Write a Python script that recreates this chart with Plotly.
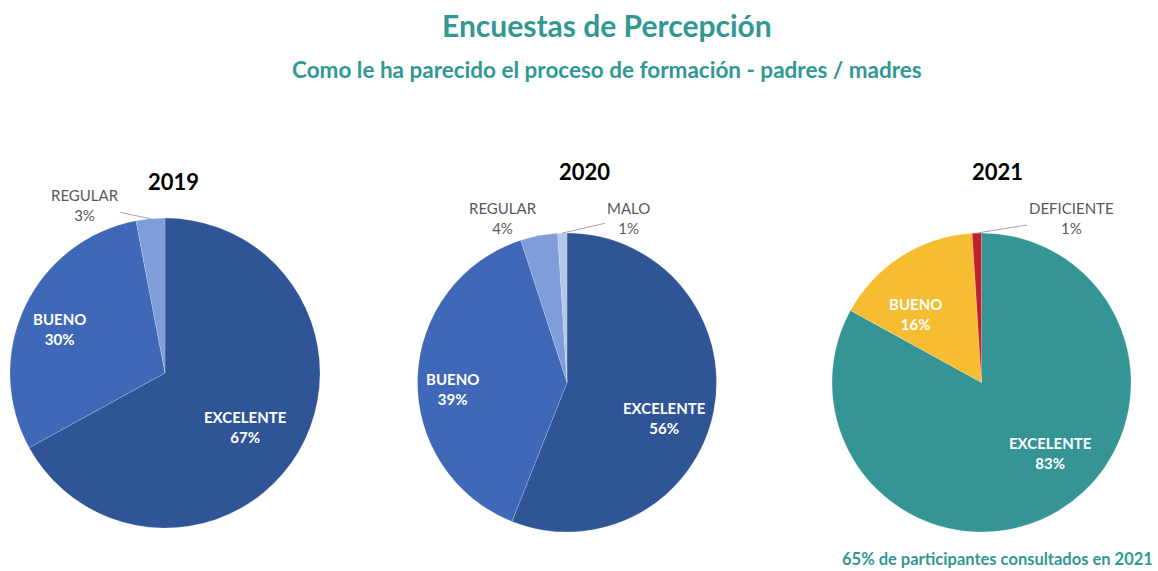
import math
import plotly.graph_objects as go

W, H = 1158, 571

years = ["2019", "2020", "2021"]
labels_2019 = ["EXCELENTE", "BUENO", "REGULAR"]
values_2019 = [67, 30, 3]
labels_2020 = ["EXCELENTE", "BUENO", "REGULAR", "MALO"]
values_2020 = [56, 39, 4, 1]
labels_2021 = ["EXCELENTE", "BUENO", "DEFICIENTE"]
values_2021 = [83, 16, 1]

colors_2019 = ["#2F5597", "#3F69B8", "#7F9DD8"]
colors_2020 = ["#2F5597", "#3F69B8", "#7F9DD8", "#B4C7E7"]
colors_2021 = ["#349594", "#F6BD33", "#C0202D"]

# layout: pixel boxes (x0, x1, y0, y1) for each pie
boxes = [(10, 320, 218, 528), (417, 717, 233, 532), (832, 1131, 233, 532)]
# inside label centres (pixels)
inside_pos = {
    "2019": {"EXCELENTE": (245, 427), "BUENO": (60, 329)},
    "2020": {"EXCELENTE": (664, 418), "BUENO": (452, 389)},
    "2021": {"EXCELENTE": (1050, 453), "BUENO": (915, 314)},
}
# outside label centres (pixels) for small slices, with leader line
outside_pos = {
    "2019": {"REGULAR": (85, 205)},
    "2020": {"REGULAR": (503, 218), "MALO": (628, 218)},
    "2021": {"DEFICIENTE": (1071, 218)},
}
year_title_pos = [(173, 181), (584, 172), (997, 172)]

data = [(labels_2019, values_2019, colors_2019),
        (labels_2020, values_2020, colors_2020),
        (labels_2021, values_2021, colors_2021)]

FONT = "Lato"
fig = go.Figure()
annotations = []

def px(x, y):
    return x / W, 1 - y / H

for yr, (labs, vals, cols), (x0, x1, y0, y1), tpos in zip(years, data, boxes, year_title_pos):
    fig.add_trace(go.Pie(
        labels=labs, values=vals, sort=False, direction="clockwise", rotation=0,
        marker=dict(colors=cols, line=dict(color="rgba(255,255,255,0.35)", width=0.5)),
        textinfo="none",
        domain=dict(x=[x0 / W, x1 / W], y=[1 - y1 / H, 1 - y0 / H]),
        showlegend=False, hoverinfo="label+percent",
    ))
    cx, cy = (x0 + x1) / 2, (y0 + y1) / 2
    r = min(x1 - x0, y1 - y0) / 2
    total = sum(vals)
    cum = 0
    for l, v in zip(labs, vals):
        mid = (cum + v / 2) / total * 2 * math.pi
        cum += v
        if l in outside_pos[yr]:
            ex = cx + r * math.sin(mid)
            ey = cy - r * math.cos(mid)
            tx, ty = outside_pos[yr][l]
            xx, yy = px(ex, ey)
            annotations.append(dict(
                x=xx, y=yy, xref="paper", yref="paper",
                text=f"{l}<br>{v}%", showarrow=True, arrowhead=0, arrowwidth=1,
                arrowcolor="#A6A6A6", ax=tx - ex, ay=ty - ey, standoff=0,
                font=dict(family=FONT, size=15, color="#595959"), align="center"))
        else:
            tx, ty = inside_pos[yr][l]
            xx, yy = px(tx, ty)
            annotations.append(dict(
                x=xx, y=yy, xref="paper", yref="paper", showarrow=False,
                xanchor="center", yanchor="middle", align="center",
                text=f"<b>{l}</b><br><b>{v}%</b>",
                font=dict(family=FONT, size=15, color="white")))
    xx, yy = px(*tpos)
    annotations.append(dict(
        x=xx, y=yy, xref="paper", yref="paper", xanchor="center", yanchor="middle",
        text=f"<b>{yr}</b>", showarrow=False,
        font=dict(family=FONT, size=22, color="black")))

teal = "#319893"
annotations += [
    dict(x=607 / W, y=1 - 25 / H, xref="paper", yref="paper", showarrow=False,
         xanchor="center", yanchor="middle",
         text="<b>Encuestas de Percepción</b>",
         font=dict(family=FONT, size=30, color=teal)),
    dict(x=607 / W, y=1 - 70 / H, xref="paper", yref="paper", showarrow=False,
         xanchor="center", yanchor="middle",
         text="<b>Como le ha parecido el proceso de formación - padres / madres</b>",
         font=dict(family=FONT, size=22.5, color=teal)),
    dict(x=1155 / W, y=1 - 559 / H, xref="paper", yref="paper", showarrow=False,
         xanchor="right", yanchor="middle",
         text="<b>65% de participantes consultados en 2021</b>",
         font=dict(family=FONT, size=16.5, color=teal)),
]

fig.update_layout(
    width=W, height=H, margin=dict(l=0, r=0, t=0, b=0),
    paper_bgcolor="white", plot_bgcolor="white",
    annotations=annotations,
)
fig.write_html("out.html", config={"displayModeBar": False},
               post_script="document.body.style.margin='0';")
